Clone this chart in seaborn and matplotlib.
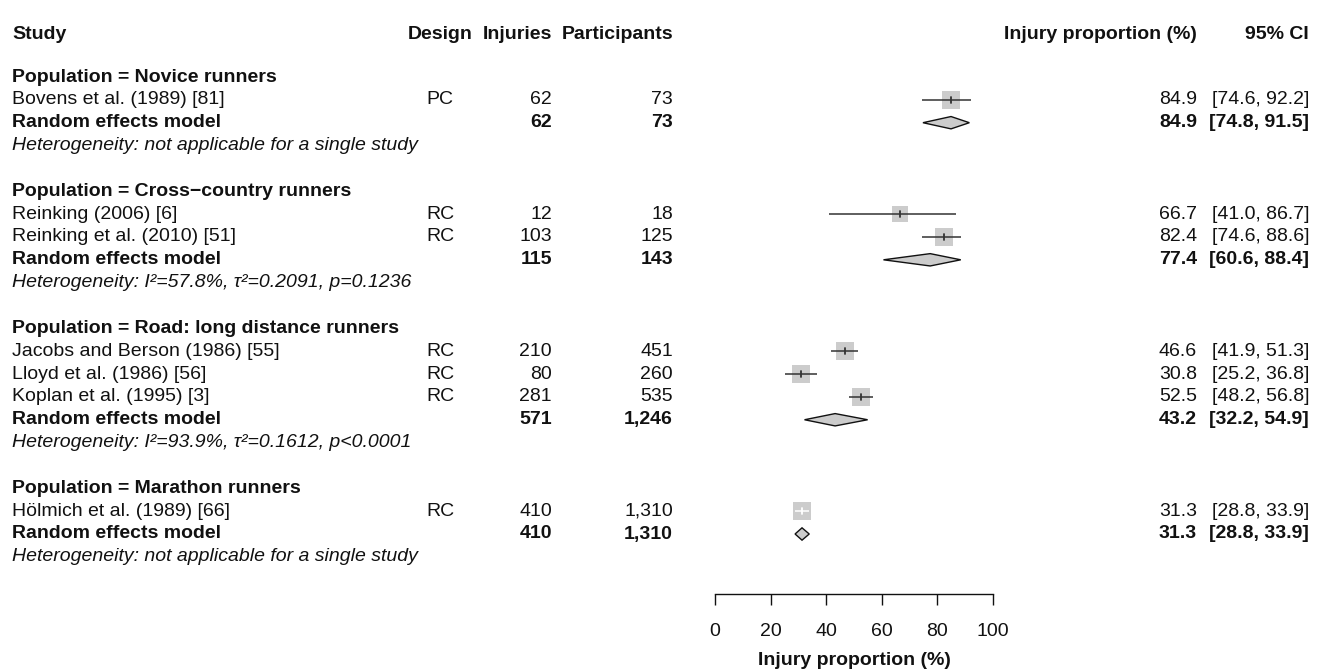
import matplotlib
matplotlib.use("Agg")
import matplotlib.pyplot as plt
from matplotlib.patches import Polygon
from matplotlib.transforms import blended_transform_factory
import seaborn as sns
import pandas as pd

# ---------------- data ----------------
group_names = ["Novice runners", "Cross\u2212country runners",
               "Road: long distance runners", "Marathon runners"]
studies = ["Bovens et al. (1989) [81]", "Reinking (2006) [6]",
           "Reinking et al. (2010) [51]", "Jacobs and Berson (1986) [55]",
           "Lloyd et al. (1986) [56]", "Koplan et al. (1995) [3]",
           "H\u00f6lmich et al. (1989) [66]"]
study_group = [0, 1, 1, 2, 2, 2, 3]
design = ["PC", "RC", "RC", "RC", "RC", "RC", "RC"]
injuries = [62, 12, 103, 210, 80, 281, 410]
participants = [73, 18, 125, 451, 260, 535, 1310]
est = [84.9, 66.7, 82.4, 46.6, 30.8, 52.5, 31.3]
lower = [74.6, 41.0, 74.6, 41.9, 25.2, 48.2, 28.8]
upper = [92.2, 86.7, 88.6, 51.3, 36.8, 56.8, 33.9]
pooled_est = [84.9, 77.4, 43.2, 31.3]
pooled_lower = [74.8, 60.6, 32.2, 28.8]
pooled_upper = [91.5, 88.4, 54.9, 33.9]
het_text = ["Heterogeneity: not applicable for a single study",
            "Heterogeneity: I\u00b2=57.8%, \u03c4\u00b2=0.2091, p=0.1236",
            "Heterogeneity: I\u00b2=93.9%, \u03c4\u00b2=0.1612, p<0.0001",
            "Heterogeneity: not applicable for a single study"]
x_ticks = [0, 20, 40, 60, 80, 100]
x_label = "Injury proportion (%)"

# ---------------- style ----------------
box_px = [18, 16, 18, 18, 18, 18, 18]   # square side in pixels (style)
sns.set_style("white")
plt.rcParams["font.family"] = ["Liberation Sans", "DejaVu Sans"]
FS = 14
TXT = "#111111"
W, H = 1318, 672

fig = plt.figure(figsize=(W / 100, H / 100), dpi=100)
y0_px, dy_px, axis_px = 77, 22.85, 594
ytop = (0 - y0_px) / dy_px
ybot = (axis_px - y0_px) / dy_px
ax = fig.add_axes([715 / W, 1 - axis_px / H, 278 / W, axis_px / H])
ax.set_xlim(0, 100)
ax.set_ylim(ybot, ytop)

trans = blended_transform_factory(fig.transFigure, ax.transData)


def fx(px):
    return px / W


X_STUDY, X_DESIGN, X_INJ, X_PART, X_EST, X_CI = 12, 440, 552, 673, 1197, 1309

# headers
hdr_y = -1.85
hkw = dict(transform=trans, va="center", fontsize=FS, fontweight="bold", color=TXT)
ax.text(fx(X_STUDY), hdr_y, "Study", ha="left", **hkw)
ax.text(fx(X_DESIGN), hdr_y, "Design", ha="center", **hkw)
ax.text(fx(X_INJ), hdr_y, "Injuries", ha="right", **hkw)
ax.text(fx(X_PART), hdr_y, "Participants", ha="right", **hkw)
ax.text(fx(X_EST), hdr_y, x_label, ha="right", **hkw)
ax.text(fx(X_CI), hdr_y, "95% CI", ha="right", **hkw)

# assign rows
study_rows = [None] * len(studies)
pooled_rows = []
row = 0
for g, gname in enumerate(group_names):
    ax.text(fx(X_STUDY), row, "Population = " + gname, transform=trans, ha="left",
            va="center", fontsize=FS, fontweight="bold", color=TXT)
    row += 1
    for i, sg in enumerate(study_group):
        if sg == g:
            study_rows[i] = row
            row += 1
    pooled_rows.append(row)
    row += 1
    ax.text(fx(X_STUDY), row, het_text[g], transform=trans, ha="left", va="center",
            fontsize=FS, fontstyle="italic", color=TXT)
    row += 2

df = pd.DataFrame({"est": est, "row": study_rows, "lower": lower, "upper": upper,
                   "size": [(b / 1.389) ** 2 for b in box_px]})

# study rows text
tkw = dict(transform=trans, va="center", fontsize=FS, color=TXT)
for i, s in enumerate(studies):
    r = study_rows[i]
    ax.text(fx(X_STUDY), r, s, ha="left", **tkw)
    ax.text(fx(X_DESIGN), r, design[i], ha="center", **tkw)
    ax.text(fx(X_INJ), r, f"{injuries[i]:,}", ha="right", **tkw)
    ax.text(fx(X_PART), r, f"{participants[i]:,}", ha="right", **tkw)
    ax.text(fx(X_EST), r, f"{est[i]:.1f}", ha="right", **tkw)
    ax.text(fx(X_CI), r, f"[{lower[i]:.1f}, {upper[i]:.1f}]", ha="right", **tkw)

# pooled rows text
for g in range(len(group_names)):
    r = pooled_rows[g]
    inj = sum(injuries[i] for i in range(len(studies)) if study_group[i] == g)
    par = sum(participants[i] for i in range(len(studies)) if study_group[i] == g)
    ax.text(fx(X_STUDY), r, "Random effects model", ha="left", **hkw)
    ax.text(fx(X_INJ), r, f"{inj:,}", ha="right", **hkw)
    ax.text(fx(X_PART), r, f"{par:,}", ha="right", **hkw)
    ax.text(fx(X_EST), r, f"{pooled_est[g]:.1f}", ha="right", **hkw)
    ax.text(fx(X_CI), r, f"[{pooled_lower[g]:.1f}, {pooled_upper[g]:.1f}]", ha="right", **hkw)

# squares
sns.scatterplot(data=df, x="est", y="row", size="size", sizes=(df["size"].min(), df["size"].max()),
                marker="s", color="#cccccc", edgecolor="none", linewidth=0, legend=False,
                ax=ax, zorder=2)
# CI lines and centre ticks
px_per_unit = 278 / 100
for i in range(len(studies)):
    r = study_rows[i]
    half_box = box_px[i] / 2 / px_per_unit
    inside = (est[i] - lower[i] < half_box) and (upper[i] - est[i] < half_box)
    c = "white" if inside else "#333333"
    ax.plot([lower[i], upper[i]], [r, r], color=c, lw=1.1, zorder=3, solid_capstyle="butt")
    ax.plot([est[i], est[i]], [r - 0.13, r + 0.13], color=c, lw=1.3, zorder=3)

# diamonds
dh = 0.27
for g in range(len(group_names)):
    r = pooled_rows[g]
    poly = Polygon([(pooled_lower[g], r), (pooled_est[g], r - dh),
                    (pooled_upper[g], r), (pooled_est[g], r + dh)],
                   closed=True, facecolor="#cccccc", edgecolor="#111111", lw=1.0, zorder=3)
    ax.add_patch(poly)

# axis
for sp in ["top", "left", "right"]:
    ax.spines[sp].set_visible(False)
ax.spines["bottom"].set_bounds(0, 100)
ax.spines["bottom"].set_color("#111111")
ax.spines["bottom"].set_linewidth(1.0)
ax.set_xticks(x_ticks)
ax.set_xticklabels([str(t) for t in x_ticks])
ax.tick_params(axis="x", direction="out", length=8.2, width=1.0, color="#111111",
               labelsize=FS, labelcolor=TXT, pad=13, bottom=True)
ax.set_yticks([])
ax.set_ylabel("")
ax.set_xlabel(x_label, fontsize=FS, fontweight="bold", color=TXT, labelpad=8.5)
ax.patch.set_alpha(0)

fig.savefig("out.png", dpi=100, facecolor="white")
